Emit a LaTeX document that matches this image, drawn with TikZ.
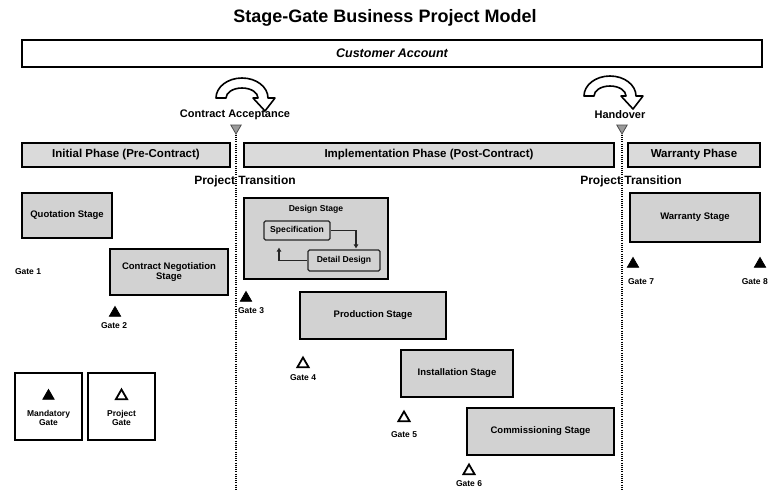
\documentclass[tikz,border=0pt]{standalone}
\usepackage{fontspec}
\setmainfont{Liberation Sans}
\usetikzlibrary{shapes.geometric,arrows.meta}
\definecolor{boxgrey}{HTML}{D2D2D2}
\definecolor{phasegrey}{HTML}{DADADA}
\definecolor{markgrey}{HTML}{9A9A9A}
\tikzset{
  stagebox/.style={draw=black, line width=1.6pt, fill=boxgrey, align=center, inner sep=1pt,
    font=\bfseries\fontsize{9.5}{10.5}\selectfont},
  phasebox/.style={draw=black, line width=1.6pt, fill=phasegrey, minimum height=24pt, inner sep=0pt,
    font=\bfseries\fontsize{11.5}{12}\selectfont},
  subbox/.style={draw=black!85, line width=1.3pt, fill=boxgrey, rounded corners=1.5pt, inner sep=0pt,
    font=\bfseries\fontsize{8.6}{9}\selectfont},
  legendbox/.style={draw=black, line width=1.6pt, fill=white, minimum width=67pt, minimum height=67pt, inner sep=0pt},
  gatefull/.style={regular polygon, regular polygon sides=3, fill=black, draw=black, line width=0.8pt, minimum size=13pt, inner sep=0pt},
  gateopen/.style={regular polygon, regular polygon sides=3, fill=white, draw=black, line width=1.8pt, minimum size=13pt, inner sep=0pt},
  gatemark/.style={regular polygon, regular polygon sides=3, shape border rotate=180, fill=markgrey, draw=black!70, line width=0.8pt, minimum size=12pt, inner sep=0pt},
  gatelabel/.style={font=\bfseries\fontsize{8.5}{9.5}\selectfont, inner sep=0pt},
  milestone/.style={font=\bfseries\fontsize{11}{12}\selectfont, inner sep=0pt},
  transition/.style={font=\bfseries\fontsize{12}{13}\selectfont, inner sep=0pt},
  curvearrow/.style={draw=black, line width=1.6pt, fill=white, line join=round},
  vdots/.style={line width=1.4pt, dash pattern=on 1pt off 1.2pt},
  flow/.style={line width=1.3pt, draw=black!85, -{Triangle[length=4pt,width=4.5pt]}}
}
\begin{document}
\begin{tikzpicture}[x=1pt,y=-1pt]
\useasboundingbox[fill=white] (0,0) rectangle (769,491);

% title
\node[font=\bfseries\fontsize{18}{20}\selectfont] (title) at (385,18) {Stage-Gate Business Project Model};

% customer account
\node[draw=black, line width=1.6pt, minimum width=740pt, minimum height=27pt, inner sep=0pt,
  font=\bfseries\itshape\fontsize{12.5}{13}\selectfont] (cust) at (392,53.5) {Customer Account};

% curved arrows
\draw[curvearrow] (216,98) arc[start angle=180,end angle=360,x radius=26,y radius=20]
  -- (275,98) -- (265,111) -- (253,98) -- (258,98)
  arc[start angle=360,end angle=180,x radius=16,y radius=10] -- cycle;
\draw[curvearrow] (584,96) arc[start angle=180,end angle=360,x radius=26,y radius=20]
  -- (643,96) -- (633,109) -- (621,96) -- (626,96)
  arc[start angle=360,end angle=180,x radius=16,y radius=10] -- cycle;

% milestones
\node[milestone] (ca) at (235,115) {Contract Acceptance};
\node[milestone] (ho) at (620,115) {Handover};
\node[gatemark] (caM) at (236,128) {};
\node[gatemark] (hoM) at (622,128) {};
\coordinate (caEnd) at (236,491);
\coordinate (hoEnd) at (622,491);
\draw[vdots] (caM.south) -- (caEnd);
\draw[vdots] (hoM.south) -- (hoEnd);

% phases
\node[phasebox, minimum width=208pt] (ph1) at (126,155) {Initial Phase (Pre-Contract)};
\node[phasebox, minimum width=370pt] (ph2) at (429,155) {Implementation Phase (Post-Contract)};
\node[phasebox, minimum width=132pt] (ph3) at (694,155) {Warranty Phase};

\node[transition] (pt1) at (245,181) {Project Transition};
\node[transition] (pt2) at (631,181) {Project Transition};

% stages
\node[stagebox, minimum width=90pt, minimum height=45pt] (quote) at (67,215.5) {Quotation Stage};
\node[stagebox, minimum width=118pt, minimum height=46pt] (neg) at (169,272) {Contract Negotiation\\Stage};
\node[stagebox, minimum width=144pt, minimum height=81pt] (design) at (316,238.5) {};
\node[font=\bfseries\fontsize{8.6}{9}\selectfont, inner sep=0pt] (designT) at (316,209) {Design Stage};
\node[subbox, minimum width=66pt, minimum height=19pt] (spec) at (297,230.5) {Specification};
\node[subbox, minimum width=72pt, minimum height=21pt] (detail) at (344,260.5) {Detail Design};
\draw[flow, shorten >=1pt] (spec.east) -| ([xshift=12pt]detail.north);
\draw[flow, shorten >=7pt] (detail.west) -| ([xshift=-18pt]spec.south);

\node[stagebox, minimum width=146pt, minimum height=47pt] (prod) at (373,315.5) {Production Stage};
\node[stagebox, minimum width=112pt, minimum height=47pt] (inst) at (457,373.5) {Installation Stage};
\node[stagebox, minimum width=147pt, minimum height=47pt] (comm) at (540.5,431.5) {Commissioning Stage};
\node[stagebox, minimum width=130pt, minimum height=49pt] (warr) at (695,217.5) {Warranty Stage};

% gates
\node[gatelabel] (g1L) at (28,272) {Gate 1};
\node[gatefull] (g2) at (115,313) {};
\node[gatelabel] (g2L) at (114,326) {Gate 2};
\node[gatefull] (g3) at (246,298) {};
\node[gatelabel] (g3L) at (251,311) {Gate 3};
\node[gateopen] (g4) at (303,364) {};
\node[gatelabel] (g4L) at (303,378) {Gate 4};
\node[gateopen] (g5) at (404,418) {};
\node[gatelabel] (g5L) at (404,435) {Gate 5};
\node[gateopen] (g6) at (469,471) {};
\node[gatelabel] (g6L) at (469,484) {Gate 6};
\node[gatefull] (g7) at (633,264) {};
\node[gatelabel] (g7L) at (641,282) {Gate 7};
\node[gatefull] (g8) at (760,264) {};
\node[gatelabel, anchor=east] (g8L) at (768,282) {Gate 8};

% legend
\node[legendbox] (lm) at (48.5,406.5) {};
\node[gatefull] (lmT) at (48.5,396) {};
\node[gatelabel, align=center] (lmL) at (48.5,418) {Mandatory\\Gate};
\node[legendbox] (lp) at (121.5,406.5) {};
\node[gateopen] (lpT) at (121.5,396) {};
\node[gatelabel, align=center] (lpL) at (121.5,418) {Project\\Gate};
\end{tikzpicture}
\end{document}
